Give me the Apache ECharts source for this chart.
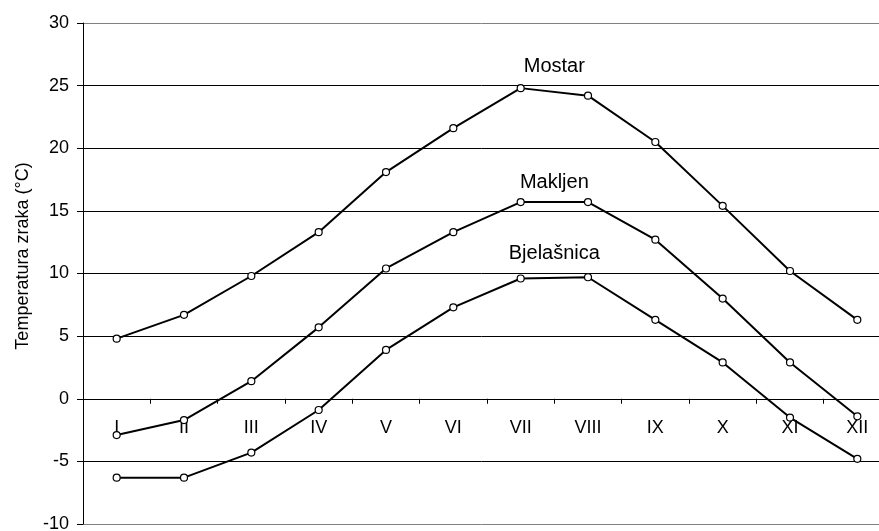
<!DOCTYPE html>
<html>
<head>
<meta charset="utf-8">
<script src="https://cdn.jsdelivr.net/npm/echarts@6/dist/echarts.min.js"></script>
<style>html,body{margin:0;padding:0;background:#fff}#c{width:879px;height:531px}</style>
</head>
<body>
<div id="c"></div>
<script>
const months = ['I','II','III','IV','V','VI','VII','VIII','IX','X','XI','XII'];
const mostar = [4.8, 6.7, 9.8, 13.3, 18.1, 21.6, 24.8, 24.2, 20.5, 15.4, 10.2, 6.3];
const makljen = [-2.9, -1.7, 1.4, 5.7, 10.4, 13.3, 15.7, 15.7, 12.7, 8.0, 2.9, -1.4];
const bjelasnica = [-6.3, -6.3, -4.3, -0.9, 3.9, 7.3, 9.6, 9.7, 6.3, 2.9, -1.5, -4.8];
const seriesNames = ['Mostar', 'Makljen', 'Bjelašnica'];
const labelValues = [26.5, 17.3, 11.6];
const yTicks = [-10, -5, 0, 5, 10, 15, 20, 25, 30];
const yName = 'Temperatura zraka (°C)';

const font = 'Liberation Sans, Arial, sans-serif';
const chart = echarts.init(document.getElementById('c'), null, {renderer: 'canvas'});
function lineSeries(name, data) {
  return {
    name: name, type: 'line', data: data,
    symbol: 'circle', symbolSize: 7,
    lineStyle: {color: '#000', width: 2},
    itemStyle: {color: '#fff', borderColor: '#000', borderWidth: 1.2},
    emphasis: {disabled: true},
    animation: false, z: 5
  };
}
const splitColors = yTicks.map((v, i) => (i === 0 || i === yTicks.length - 1) ? '#808080' : '#000');
chart.setOption({
  animation: false,
  backgroundColor: '#fff',
  grid: {left: 83, top: 23, width: 808, height: 501, containLabel: false, outerBoundsMode: 'none'},
  xAxis: {
    type: 'category', data: months, boundaryGap: true, position: 'bottom',
    axisLine: {onZero: false, lineStyle: {color: '#000', width: 1}},
    axisTick: {show: true, inside: false, length: 5, lineStyle: {color: '#000'}},
    axisLabel: {color: '#000', fontFamily: font, fontSize: 18, margin: 20},
    splitLine: {show: false}
  },
  yAxis: {
    type: 'value', min: yTicks[0], max: yTicks[yTicks.length - 1], interval: 5,
    axisLine: {show: true, lineStyle: {color: '#000', width: 1}},
    axisTick: {show: true, length: 6, lineStyle: {color: '#000'}},
    axisLabel: {color: '#000', fontFamily: font, fontSize: 18, margin: 14},
    splitLine: {show: true, lineStyle: {color: splitColors, width: 1}}
  },
  series: [lineSeries(seriesNames[0], mostar), lineSeries(seriesNames[1], makljen), lineSeries(seriesNames[2], bjelasnica)]
});

const yZero = chart.convertToPixel({yAxisIndex: 0}, 0);
const yBottom = chart.convertToPixel({yAxisIndex: 0}, yTicks[0]);
const x7 = chart.convertToPixel({xAxisIndex: 0}, 'VII');
const x8 = chart.convertToPixel({xAxisIndex: 0}, 'VIII');
const midX = (x7 + x8) / 2;
const texts = seriesNames.map((n, i) => ({
  type: 'text', x: midX, y: chart.convertToPixel({yAxisIndex: 0}, labelValues[i]),
  style: {text: n, fill: '#000', font: '20px ' + font, textAlign: 'center', textVerticalAlign: 'middle'},
  z: 10
}));
texts.push({
  type: 'text', x: 23, y: 256, rotation: Math.PI / 2,
  style: {text: yName, fill: '#000', font: '18px ' + font, textAlign: 'center', textVerticalAlign: 'middle'},
  z: 10
});
chart.setOption({xAxis: {offset: -(yBottom - yZero)}, graphic: texts});
</script>
</body>
</html>
